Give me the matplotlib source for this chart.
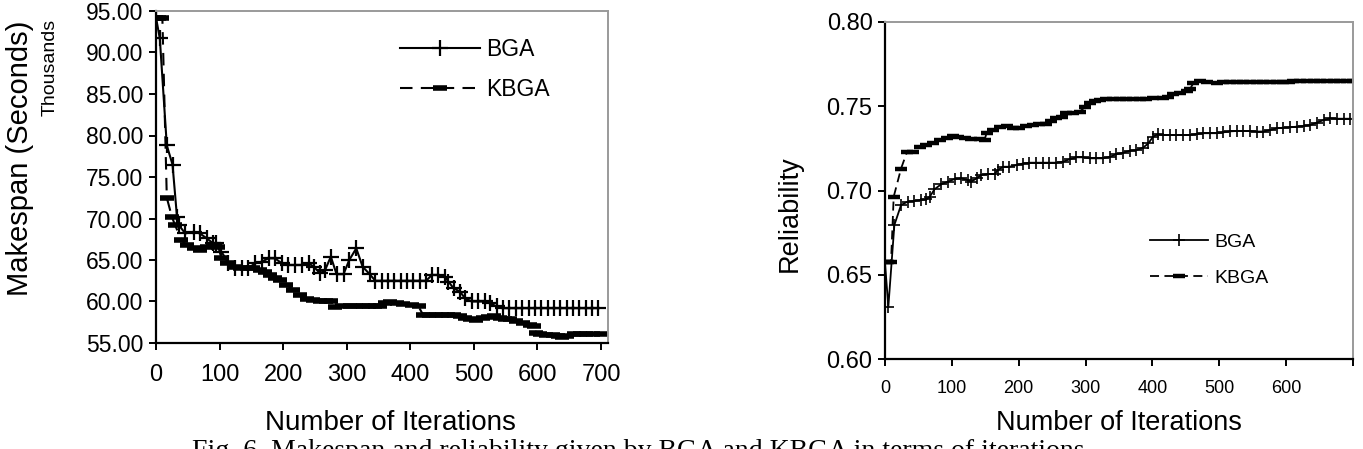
import matplotlib
matplotlib.use("Agg")
import matplotlib.pyplot as plt

plt.rcParams['font.family'] = ['Liberation Sans', 'DejaVu Sans']

# ---------------- Left chart: makespan (thousands of seconds) ----------------
bga_ms_iter = [0, 6, 17, 26, 33, 36, 46, 59, 69, 80, 90, 95, 103, 114, 124, 135, 145,
               156, 166, 177, 187, 198, 208, 219, 229, 240, 248, 258, 266, 275, 284,
               295, 304, 315, 325, 336, 345, 355, 365, 375, 385, 395, 405, 415, 425,
               434, 444, 454, 460, 468, 478, 486, 497, 507, 518, 525, 536, 546, 556,
               566, 576, 586, 596, 606, 616, 626, 636, 646, 656, 666, 676, 686, 696]
bga_ms = [94.2, 91.7, 78.8, 76.5, 70.2, 69.2, 68.2, 68.4, 68.2, 67.6, 67.0, 67.0, 66.0,
          64.6, 64.0, 64.0, 64.0, 64.6, 64.8, 65.2, 65.2, 64.6, 64.4, 64.4, 64.4, 64.6,
          64.2, 63.4, 63.8, 65.4, 63.3, 63.3, 65.0, 66.4, 64.2, 63.3, 62.5, 62.5, 62.5,
          62.5, 62.5, 62.5, 62.5, 62.5, 62.5, 63.2, 63.2, 63.0, 62.4, 61.6, 61.2, 60.4,
          60.0, 60.0, 60.0, 59.8, 59.4, 59.2, 59.2, 59.2, 59.2, 59.2, 59.2, 59.2, 59.2,
          59.2, 59.2, 59.2, 59.2, 59.2, 59.2, 59.2, 59.2]

kbga_ms_iter = [0, 5, 10, 17, 25, 30, 40, 48, 59, 69, 80, 90, 98, 103, 112, 122, 132,
                143, 153, 164, 171, 179, 187, 195, 205, 216, 227, 237, 247, 258, 268,
                276, 282, 292, 305, 315, 325, 335, 345, 352, 360, 368, 379, 389, 402,
                413, 420, 430, 440, 450, 460, 468, 478, 486, 494, 504, 515, 523, 531,
                541, 549, 557, 567, 578, 588, 594, 598, 604, 614, 625, 632, 638, 646,
                657, 667, 677, 688, 700]
kbga_ms = [94.2, 94.2, 94.2, 72.5, 70.2, 69.2, 67.4, 66.8, 66.4, 66.2, 66.6, 66.8, 66.6,
           65.2, 64.6, 64.2, 64.0, 64.0, 64.0, 63.8, 63.6, 63.2, 62.8, 62.6, 62.0, 61.4,
           60.8, 60.3, 60.2, 60.1, 60.1, 60.0, 59.3, 59.5, 59.5, 59.5, 59.5, 59.5, 59.5,
           59.5, 59.8, 59.9, 59.8, 59.7, 59.6, 59.4, 58.4, 58.4, 58.4, 58.4, 58.4, 58.4,
           58.2, 58.0, 57.9, 57.8, 58.0, 58.1, 58.2, 58.0, 57.9, 57.9, 57.7, 57.4, 57.2,
           57.0, 56.2, 56.1, 56.0, 56.0, 55.8, 55.7, 55.8, 56.1, 56.1, 56.1, 56.1, 56.1]

ms_yticks = [55, 60, 65, 70, 75, 80, 85, 90, 95]
ms_xticks = [0, 100, 200, 300, 400, 500, 600, 700]

# ---------------- Right chart: reliability ----------------
bga_rel_iter = [0, 5, 14, 24, 34, 44, 54, 62, 67, 74, 84, 94, 104, 114, 124, 129, 137,
                144, 154, 164, 169, 177, 186, 197, 206, 216, 226, 236, 246, 256, 266,
                276, 286, 296, 306, 316, 326, 336, 346, 356, 366, 376, 386, 394, 401,
                408, 416, 426, 436, 446, 456, 466, 476, 486, 496, 506, 516, 526, 536,
                546, 556, 566, 576, 586, 596, 606, 616, 626, 636, 646, 656, 666, 676,
                686, 696]
bga_rel = [0.657, 0.631, 0.6795, 0.6914, 0.6934, 0.6938, 0.6944, 0.6948, 0.6963, 0.7007,
           0.7037, 0.7052, 0.7068, 0.7072, 0.7062, 0.7052, 0.7072, 0.7092, 0.7098, 0.7098,
           0.7122, 0.7141, 0.7141, 0.7151, 0.7160, 0.7165, 0.7165, 0.7165, 0.7165, 0.7165,
           0.7171, 0.7185, 0.7197, 0.7197, 0.7191, 0.7191, 0.7191, 0.7200, 0.7215, 0.7224,
           0.7236, 0.7240, 0.7254, 0.7280, 0.7320, 0.7333, 0.7329, 0.7329, 0.7329, 0.7329,
           0.7329, 0.7335, 0.7340, 0.7340, 0.7340, 0.7345, 0.7351, 0.7353, 0.7353, 0.7353,
           0.7350, 0.7350, 0.7359, 0.7369, 0.7373, 0.7375, 0.7379, 0.7383, 0.7389, 0.7403,
           0.7418, 0.7428, 0.7426, 0.7426, 0.7426]

kbga_rel_iter = [0, 5, 9, 13, 24, 33, 42, 52, 62, 72, 82, 92, 102, 109, 119, 129, 142,
                 149, 152, 161, 172, 182, 192, 201, 211, 221, 231, 241, 249, 256, 264,
                 271, 281, 291, 299, 306, 314, 321, 331, 341, 351, 361, 371, 381, 391,
                 401, 416, 423, 431, 441, 451, 456, 461, 471, 481, 496, 506, 516, 526,
                 536, 546, 556, 566, 576, 586, 596, 605, 611, 621, 631, 641, 651, 661,
                 671, 681, 691, 700]
kbga_rel = [0.6574, 0.6574, 0.6574, 0.6963, 0.7130, 0.7230, 0.7230, 0.7260, 0.7270,
            0.7284, 0.7300, 0.7310, 0.7323, 0.7320, 0.7310, 0.7304, 0.7304, 0.7300,
            0.7343, 0.7359, 0.7379, 0.7380, 0.7369, 0.7370, 0.7380, 0.7390, 0.7395,
            0.7395, 0.7410, 0.7430, 0.7438, 0.7460, 0.7460, 0.7468, 0.7494, 0.7517,
            0.7533, 0.7540, 0.7545, 0.7545, 0.7545, 0.7545, 0.7545, 0.7545, 0.7545,
            0.7549, 0.7549, 0.7557, 0.7570, 0.7580, 0.7593, 0.7600, 0.7636, 0.7648,
            0.7646, 0.7640, 0.7644, 0.7644, 0.7644, 0.7644, 0.7644, 0.7644, 0.7644,
            0.7644, 0.7644, 0.7644, 0.7644, 0.7652, 0.7652, 0.7652, 0.7652, 0.7652,
            0.7652, 0.7652, 0.7652, 0.7652, 0.7652]

rel_yticks = [0.60, 0.65, 0.70, 0.75, 0.80]
rel_xticks = [0, 100, 200, 300, 400, 500, 600, 700]
rel_xticklabels = ['0', '100', '200', '300', '400', '500', '600', '']

series_names = ['BGA', 'KBGA']
caption = "Fig. 6. Makespan and reliability given by BGA and KBGA in terms of iterations"

W, H = 1363, 449
fig = plt.figure(figsize=(W / 100, H / 100), dpi=100)

def box(l, t, r, b):
    return [l / W, 1 - b / H, (r - l) / W, (b - t) / H]

ax1 = fig.add_axes(box(156, 11, 608, 343))
ax2 = fig.add_axes(box(885, 22, 1353, 359))

for ax in (ax1, ax2):
    for s in ('left', 'bottom'):
        ax.spines[s].set_color('black')
        ax.spines[s].set_linewidth(1.6)
    for s in ('top', 'right'):
        ax.spines[s].set_color('#9a9a9a')
        ax.spines[s].set_linewidth(1.4)
    ax.tick_params(direction='out', width=1.4, length=5, color='black')

# Left chart
ax1.plot(bga_ms_iter, bga_ms, color='black', lw=1.5, marker='+', ms=11, mew=1.6,
         label=series_names[0])
ax1.plot(kbga_ms_iter, kbga_ms, color='black', lw=1.5, ls=(0, (6, 4)), marker='_',
         ms=10, mew=4.0, label=series_names[1])
ax1.set_xlim(0, 711)
ax1.set_ylim(55, 95)
ax1.set_yticks(ms_yticks)
ax1.set_yticklabels([f"{v:.2f}" for v in ms_yticks], fontsize=16.5)
ax1.set_xticks(ms_xticks)
ax1.set_xticklabels([str(v) for v in ms_xticks], fontsize=17)
ax1.tick_params(axis='y', pad=4)
ax1.tick_params(axis='x', pad=10)
ax1.legend(loc='upper left', bbox_to_anchor=((400 - 156) / 452, 1 - (38 - 11) / 332),
           frameon=False, fontsize=16.5, handlelength=3.5, handletextpad=0.25,
           labelspacing=0.75, borderpad=0, borderaxespad=0)

fig.text(20 / W, 1 - 158 / H, "Makespan (Seconds)", rotation=90, fontsize=21,
         ha='center', va='center')
fig.text(50 / W, 1 - 67 / H, "Thousands", rotation=90, fontsize=14,
         ha='center', va='center')
fig.text(390 / W, 1 - 423 / H, "Number of Iterations", fontsize=20,
         ha='center', va='center')

# Right chart
ax2.plot(bga_rel_iter, bga_rel, color='black', lw=1.3, marker='+', ms=8, mew=1.2,
         label=series_names[0])
ax2.plot(kbga_rel_iter, kbga_rel, color='black', lw=1.3, ls=(0, (5, 3)), marker='_',
         ms=8, mew=3.2, label=series_names[1])
ax2.set_xlim(0, 700)
ax2.set_ylim(0.60, 0.80)
ax2.set_yticks(rel_yticks)
ax2.set_yticklabels([f"{v:.2f}" for v in rel_yticks], fontsize=17)
ax2.set_xticks(rel_xticks)
ax2.set_xticklabels(rel_xticklabels, fontsize=13)
ax2.tick_params(axis='y', pad=4)
ax2.tick_params(axis='x', pad=10)
ax2.legend(loc='upper left', bbox_to_anchor=((1150 - 885) / 468, 1 - (233 - 22) / 337),
           frameon=False, fontsize=14, handlelength=3.0, handletextpad=0.3,
           labelspacing=0.95, borderpad=0, borderaxespad=0)

fig.text(790 / W, 1 - 214 / H, "Reliability", rotation=90, fontsize=19.5,
         ha='center', va='center')
fig.text(1119 / W, 1 - 423 / H, "Number of Iterations", fontsize=19.5,
         ha='center', va='center')

fig.text(192 / W, 1 - 439 / H, caption, fontsize=20, ha='left', va='top',
         family=['Liberation Serif', 'DejaVu Serif'])

fig.savefig("out.png", dpi=100)
